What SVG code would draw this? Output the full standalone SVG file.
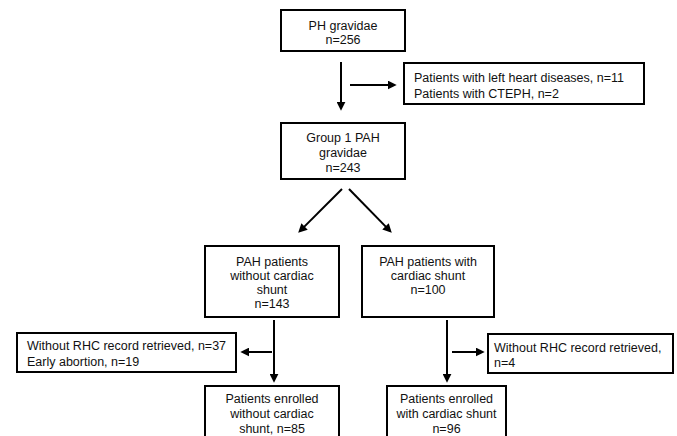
<svg xmlns="http://www.w3.org/2000/svg" width="677" height="436" viewBox="0 0 677 436">
<style>
rect.box{fill:#fff;stroke:#000;stroke-width:2}
text{font-family:"Liberation Sans",Arial,sans-serif;font-size:12.5px;fill:#111}
.c{text-anchor:middle}
line.a{stroke:#000;stroke-width:2;marker-end:url(#ah)}
</style>
<defs>
<marker id="ah" viewBox="0 0 10 10" refX="7" refY="5" markerWidth="9" markerHeight="9" markerUnits="userSpaceOnUse" orient="auto">
<path d="M0,0 L10,5 L0,10 z" fill="#000"/>
</marker>
</defs>
<rect width="677" height="436" fill="#fff"/>
<g id="connectors">
<line class="a" x1="341" y1="62" x2="341" y2="108"/>
<line class="a" x1="350" y1="85" x2="394" y2="85"/>
<line class="a" x1="342" y1="189" x2="300.1" y2="230.9"/>
<line class="a" x1="349" y1="189" x2="389.9" y2="230.9"/>
<line class="a" x1="274" y1="320" x2="274" y2="380"/>
<line class="a" x1="272" y1="352" x2="243" y2="352"/>
<line class="a" x1="447" y1="320" x2="447" y2="380"/>
<line class="a" x1="452" y1="352" x2="482" y2="352"/>
</g>
<g id="n1"><rect class="box" x="281" y="10" width="124" height="41"/>
<text class="c" x="343" y="30">PH gravidae</text><text class="c" x="343" y="44">n=256</text></g>
<g id="excl1"><rect class="box" x="404" y="63" width="240" height="41"/>
<text x="414" y="82">Patients with left heart diseases, n=11</text><text x="414" y="98">Patients with CTEPH, n=2</text></g>
<g id="n2"><rect class="box" x="281" y="123" width="124" height="56"/>
<text class="c" x="343" y="142">Group 1 PAH</text><text class="c" x="343" y="157">gravidae</text><text class="c" x="343" y="172">n=243</text></g>
<g id="n3"><rect class="box" x="205" y="246" width="134" height="71"/>
<text class="c" x="272" y="265.5">PAH patients</text><text class="c" x="272" y="279.5">without cardiac</text><text class="c" x="272" y="293.5">shunt</text><text class="c" x="272" y="307.5">n=143</text></g>
<g id="n4"><rect class="box" x="362" y="246" width="132" height="71"/>
<text class="c" x="428" y="265.5">PAH patients with</text><text class="c" x="428" y="279.5">cardiac shunt</text><text class="c" x="428" y="293.5">n=100</text></g>
<g id="excl2"><rect class="box" x="17" y="333" width="219" height="39"/>
<text x="27" y="350">Without RHC record retrieved, n=37</text><text x="27" y="366">Early abortion, n=19</text></g>
<g id="excl3"><rect class="box" x="488" y="334" width="185" height="39"/>
<text x="494" y="352">Without RHC record retrieved,</text><text x="494" y="367">n=4</text></g>
<g id="n5"><rect class="box" x="205" y="386" width="134" height="60"/>
<text class="c" x="272" y="402.5">Patients enrolled</text><text class="c" x="272" y="417.5">without cardiac</text><text class="c" x="272" y="432.5">shunt, n=85</text></g>
<g id="n6"><rect class="box" x="387" y="386" width="119" height="60"/>
<text class="c" x="446.5" y="402.5">Patients enrolled</text><text class="c" x="446.5" y="417.5">with cardiac shunt</text><text class="c" x="446.5" y="432.5">n=96</text></g>
</svg>
